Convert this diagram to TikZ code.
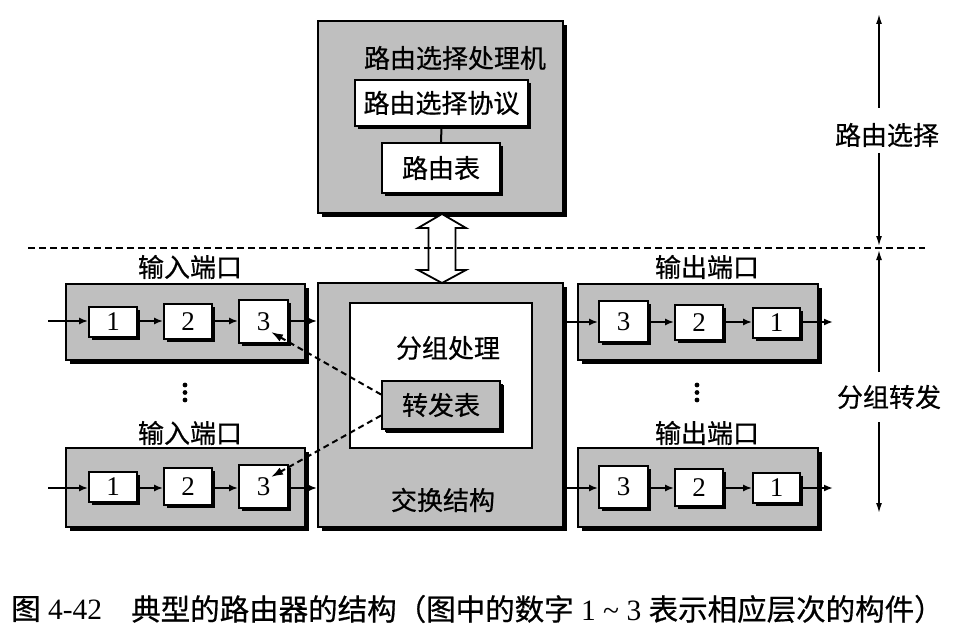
\documentclass[tikz,border=0pt]{standalone}
\usepackage{fontspec}
\setmainfont{Liberation Serif}
\newfontfamily\cjk{Noto Sans CJK SC}[FakeBold=0.6,AutoFakeBold=0.6]
\usetikzlibrary{arrows.meta,shadows,calc}
\begin{document}
\begin{tikzpicture}[x=1pt,y=-1pt,
  bigbox/.style={draw,line width=1.8pt,fill=black!25,inner sep=0pt,
    drop shadow={shadow xshift=4pt,shadow yshift=-4pt,fill=black,opacity=1}},
  wbox/.style={draw,line width=1.8pt,fill=white,inner sep=0pt,
    drop shadow={shadow xshift=3pt,shadow yshift=-3pt,fill=black,opacity=1}},
  numbox/.style={wbox,font=\fontsize{27}{27}\selectfont},
  lbl/.style={font=\cjk\bfseries\fontsize{26}{26}\selectfont,inner sep=0pt},
  flow/.style={line width=1.8pt,-{Latex[length=9pt,width=7pt]}},
  vline/.style={line width=1.5pt,-{Latex[length=10pt,width=6pt]}},
  dashlink/.style={line width=2pt,dash pattern=on 6pt off 4pt,-{Latex[length=12pt,width=8pt]}},
  caption/.style={anchor=west,inner sep=0pt,font=\fontsize{29.5}{30}\selectfont}
]
\useasboundingbox (0,0) rectangle (963,639);

% ---------- routing processor ----------
\node[bigbox,minimum width=245pt,minimum height=192pt] (RP) at (440.5,117) {};
\node[lbl] (rptitle) at (455,58) {路由选择处理机};
\node[wbox,minimum width=173pt,minimum height=46pt,lbl] (proto) at (441.5,103) {路由选择协议};
\node[wbox,minimum width=118pt,minimum height=50pt,lbl] (rtab) at (441,168) {路由表};
\draw[line width=2pt] (proto.south) -- (rtab.north);

% ---------- switch fabric ----------
\node[bigbox,minimum width=245pt,minimum height=244pt] (SF) at (440.5,405) {};
\node[draw,line width=1.3pt,fill=white,minimum width=182pt,minimum height=145pt] (PP) at (441,375.5) {};
\node[lbl] (pptitle) at (448,348) {分组处理};
\node[bigbox,minimum width=118pt,minimum height=48pt,lbl,
  drop shadow={shadow xshift=3pt,shadow yshift=-3pt,fill=black,opacity=1}] (FT) at (441,405) {转发表};
\node[lbl] (sftitle) at (443,500) {交换结构};

% ---------- hollow double arrow ----------
\draw[line width=1.8pt,fill=white,line join=miter]
  (442,214) -- (466,228) -- (455.5,228) -- (455.5,270) -- (466,270) -- (442,283)
  -- (418,270) -- (428.5,270) -- (428.5,228) -- (418,228) -- cycle;

% ---------- dashed separator ----------
\draw[line width=1.8pt,dash pattern=on 7pt off 4pt] (28,248) -- (925,248);

% ---------- input ports ----------
\node[lbl] (inlbl1) at (190,267) {输入端口};
\node[bigbox,minimum width=239pt,minimum height=76pt] (IP1) at (185.5,322) {};
\node[numbox,minimum width=48pt,minimum height=30pt] (a1) at (113,322) {1};
\node[numbox,minimum width=48pt,minimum height=35pt] (a2) at (188,321.5) {2};
\node[numbox,minimum width=49pt,minimum height=43pt] (a3) at (263.5,321.5) {3};
\coordinate (ain) at (48,321);
\draw[flow] (ain) -- (ain -| a1.west);
\draw[flow] (a1.east |- ain) -- (a2.west |- ain);
\draw[flow] (a2.east |- ain) -- (a3.west |- ain);
\draw[flow] (a3.east |- ain) -- (SF.west |- ain);

\foreach \yy in {385,392.5,400} \fill (185,\yy) circle[radius=2.4pt];
\node[lbl] (inlbl2) at (190,433) {输入端口};
\node[bigbox,minimum width=239pt,minimum height=79pt] (IP2) at (185.5,487.5) {};
\node[numbox,minimum width=48pt,minimum height=30pt] (b1) at (113,487) {1};
\node[numbox,minimum width=48pt,minimum height=37pt] (b2) at (188,486.5) {2};
\node[numbox,minimum width=49pt,minimum height=43pt] (b3) at (263.5,486.5) {3};
\coordinate (bin) at (48,488);
\draw[flow] (bin) -- (bin -| b1.west);
\draw[flow] (b1.east |- bin) -- (b2.west |- bin);
\draw[flow] (b2.east |- bin) -- (b3.west |- bin);
\draw[flow] (b3.east |- bin) -- (SF.west |- bin);

% ---------- output ports ----------
\node[lbl] (outlbl1) at (707,267) {输出端口};
\node[bigbox,minimum width=240pt,minimum height=76pt] (OP1) at (698,322) {};
\node[numbox,minimum width=49pt,minimum height=41pt] (c3) at (623.5,321.5) {3};
\node[numbox,minimum width=48pt,minimum height=35pt] (c2) at (699,322.5) {2};
\node[numbox,minimum width=47pt,minimum height=30pt] (c1) at (776.5,323) {1};
\coordinate (cout) at (833,322);
\draw[flow] (SF.east |- cout) -- (c3.west |- cout);
\draw[flow] (c3.east |- cout) -- (c2.west |- cout);
\draw[flow] (c2.east |- cout) -- (c1.west |- cout);
\draw[flow] (c1.east |- cout) -- (cout);

\foreach \yy in {385,392.5,400} \fill (697,\yy) circle[radius=2.4pt];
\node[lbl] (outlbl2) at (707,433) {输出端口};
\node[bigbox,minimum width=240pt,minimum height=79pt] (OP2) at (698,487.5) {};
\node[numbox,minimum width=49pt,minimum height=42pt] (d3) at (623.5,487) {3};
\node[numbox,minimum width=48pt,minimum height=37pt] (d2) at (699,487.5) {2};
\node[numbox,minimum width=47pt,minimum height=30pt] (d1) at (776.5,488) {1};
\coordinate (dout) at (833,488);
\draw[flow] (SF.east |- dout) -- (d3.west |- dout);
\draw[flow] (d3.east |- dout) -- (d2.west |- dout);
\draw[flow] (d2.east |- dout) -- (d1.west |- dout);
\draw[flow] (d1.east |- dout) -- (dout);

% ---------- dashed links from forwarding table ----------
\coordinate (t1) at (271,332);
\coordinate (t2) at (271,477);
\draw[dashlink] ($(FT.north west)!0.29!(FT.south west)$) -- (t1);
\draw[dashlink] ($(FT.north west)!0.71!(FT.south west)$) -- (t2);

% ---------- right-hand scale ----------
\node[lbl] (rlbl1) at (887,135) {路由选择};
\node[lbl] (rlbl2) at (889,397) {分组转发};
\coordinate (rtop) at (879,14);
\coordinate (rmid1) at (879,246);
\coordinate (rmid2) at (879,250);
\coordinate (rbot) at (879,513);
\draw[vline] (879,108) -- (rtop);
\draw[vline] (879,153) -- (rmid1);
\draw[vline] (879,372) -- (rmid2);
\draw[vline] (879,422) -- (rbot);

% ---------- caption ----------
\node[caption] (cap1) at (11,609) {{\cjk\bfseries 图} 4-42};
\node[caption] (cap2) at (131,609) {{\cjk\bfseries 典型的路由器的结构（图中的数字} 1 \textasciitilde{} 3 {\cjk\bfseries 表示相应层次的构件）}};
\end{tikzpicture}
\end{document}
